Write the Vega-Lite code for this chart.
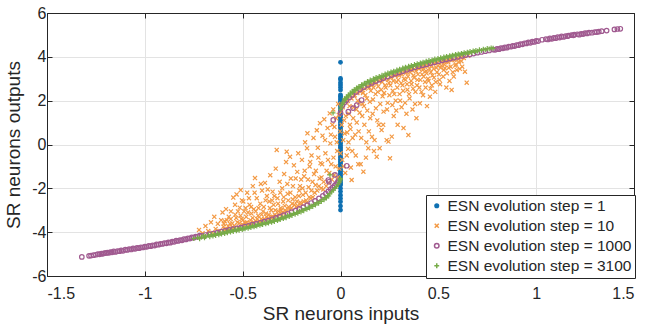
{
"$schema":"https://vega.github.io/schema/vega-lite/v6.json",
"width":587,"height":263,"autosize":"none",
"padding":{"left":47,"top":13,"right":12,"bottom":49},
"background":"white",
"config":{"view":{"stroke":"#262626","strokeWidth":1},
"font":"Liberation Sans",
"axis":{"labelFont":"Liberation Sans","titleFont":"Liberation Sans","labelFontSize":16,"titleFontSize":19,"titleFontWeight":"normal","labelColor":"#262626","titleColor":"#262626","domainColor":"#262626","tickColor":"#262626","gridColor":"#e3e3e3","tickSize":-5,"domainWidth":1,"gridWidth":1}},
"datasets":{"pts":[
{"s":"1","x":0,"y":3.75},{"s":"1","x":0,"y":3.02},{"s":"1","x":0,"y":2.95},{"s":"1","x":0,"y":2.82},{"s":"1","x":0,"y":2.72},{"s":"1","x":0,"y":2.61},{"s":"1","x":0,"y":2.49},{"s":"1","x":0,"y":2.26},{"s":"1","x":0,"y":2.2},{"s":"1","x":0,"y":2.12},{"s":"1","x":0,"y":2.04},{"s":"1","x":0,"y":1.96},{"s":"1","x":0,"y":1.88},{"s":"1","x":0,"y":1.8},{"s":"1","x":0,"y":1.72},{"s":"1","x":0,"y":1.64},{"s":"1","x":0,"y":1.56},{"s":"1","x":0,"y":1.48},{"s":"1","x":0,"y":1.4},{"s":"1","x":0,"y":1.32},{"s":"1","x":0,"y":1.24},{"s":"1","x":0,"y":1.16},{"s":"1","x":0,"y":1.08},{"s":"1","x":0,"y":1.0},{"s":"1","x":0,"y":0.92},{"s":"1","x":0,"y":0.84},{"s":"1","x":0,"y":0.76},{"s":"1","x":0,"y":0.68},{"s":"1","x":0,"y":0.6},{"s":"1","x":0,"y":0.52},{"s":"1","x":0,"y":0.44},{"s":"1","x":0,"y":0.36},{"s":"1","x":0,"y":0.28},{"s":"1","x":0,"y":0.2},{"s":"1","x":0,"y":0.12},{"s":"1","x":0,"y":0.04},{"s":"1","x":0,"y":-0.04},{"s":"1","x":0,"y":-0.12},{"s":"1","x":0,"y":-0.2},{"s":"1","x":0,"y":-0.28},{"s":"1","x":0,"y":-0.36},{"s":"1","x":0,"y":-0.44},{"s":"1","x":0,"y":-0.52},{"s":"1","x":0,"y":-0.6},{"s":"1","x":0,"y":-0.68},{"s":"1","x":0,"y":-0.76},{"s":"1","x":0,"y":-0.84},{"s":"1","x":0,"y":-0.92},{"s":"1","x":0,"y":-1.0},{"s":"1","x":0,"y":-1.08},{"s":"1","x":0,"y":-1.16},{"s":"1","x":0,"y":-1.24},{"s":"1","x":0,"y":-1.32},{"s":"1","x":0,"y":-1.4},{"s":"1","x":0,"y":-1.48},{"s":"1","x":0,"y":-1.56},{"s":"1","x":0,"y":-1.64},{"s":"1","x":0,"y":-1.72},{"s":"1","x":0,"y":-1.8},{"s":"1","x":0,"y":-1.85},{"s":"1","x":0,"y":-2.0},{"s":"1","x":0,"y":-2.15},{"s":"1","x":0,"y":-2.31},{"s":"1","x":0,"y":-2.46},{"s":"1","x":0,"y":-2.61},{"s":"1","x":0,"y":-2.81},{"s":"1","x":0,"y":-2.99},
{"s":"10","x":-0.723,"y":-3.9},{"s":"10","x":-0.705,"y":-4.05},
{"s":"10","x":-0.69,"y":-3.72},{"s":"10","x":-0.676,"y":-3.95},{"s":"10","x":-0.662,"y":-3.55},{"s":"10","x":-0.655,"y":-4.02},
{"s":"10","x":-0.645,"y":-3.3},{"s":"10","x":-0.638,"y":-3.85},{"s":"10","x":-0.627,"y":-3.62},{"s":"10","x":-0.618,"y":-3.95},{"s":"10","x":-0.61,"y":-3.45},{"s":"10","x":-0.603,"y":-3.1},
{"s":"10","x":-0.598,"y":-3.75},{"s":"10","x":-0.592,"y":-3.5},{"s":"10","x":-0.585,"y":-2.95},{"s":"10","x":-0.578,"y":-3.85},{"s":"10","x":-0.571,"y":-3.3},{"s":"10","x":-0.565,"y":-3.62},{"s":"10","x":-0.56,"y":-3.05},{"s":"10","x":-0.554,"y":-3.78},
{"s":"10","x":-0.548,"y":-2.42},{"s":"10","x":-0.542,"y":-3.7},{"s":"10","x":-0.538,"y":-3.2},{"s":"10","x":-0.531,"y":-2.28},{"s":"10","x":-0.527,"y":-3.55},{"s":"10","x":-0.52,"y":-3.78},{"s":"10","x":-0.515,"y":-2.88},{"s":"10","x":-0.51,"y":-2.08},{"s":"10","x":-0.506,"y":-3.4},{"s":"10","x":-0.502,"y":-3.65},
{"s":"10","x":-0.497,"y":-2.6},{"s":"10","x":-0.493,"y":-3.05},{"s":"10","x":-0.488,"y":-3.58},{"s":"10","x":-0.482,"y":-3.3},{"s":"10","x":-0.477,"y":-2.2},{"s":"10","x":-0.47,"y":-3.68},{"s":"10","x":-0.465,"y":-2.75},{"s":"10","x":-0.46,"y":-3.45},{"s":"10","x":-0.455,"y":-3.15},{"s":"10","x":-0.451,"y":-3.62},
{"s":"10","x":-0.448,"y":-1.9},{"s":"10","x":-0.443,"y":-2.95},{"s":"10","x":-0.437,"y":-1.53},{"s":"10","x":-0.432,"y":-3.5},{"s":"10","x":-0.428,"y":-2.45},{"s":"10","x":-0.421,"y":-3.25},{"s":"10","x":-0.417,"y":-3.58},{"s":"10","x":-0.41,"y":-2.7},{"s":"10","x":-0.405,"y":-3.4},{"s":"10","x":-0.401,"y":-2.1},
{"s":"10","x":-0.398,"y":-3.45},{"s":"10","x":-0.392,"y":-2.85},{"s":"10","x":-0.386,"y":-1.75},{"s":"10","x":-0.381,"y":-3.15},{"s":"10","x":-0.376,"y":-2.35},{"s":"10","x":-0.37,"y":-3.38},{"s":"10","x":-0.364,"y":-2.6},{"s":"10","x":-0.359,"y":-1.4},{"s":"10","x":-0.354,"y":-3.0},{"s":"10","x":-0.351,"y":-3.3},
{"s":"10","x":-0.347,"y":-2.15},{"s":"10","x":-0.342,"y":-2.75},{"s":"10","x":-0.336,"y":-3.2},{"s":"10","x":-0.331,"y":-1.1},{"s":"10","x":-0.326,"y":-0.25},{"s":"10","x":-0.322,"y":-2.45},{"s":"10","x":-0.317,"y":-3.05},{"s":"10","x":-0.311,"y":-1.7},{"s":"10","x":-0.306,"y":-2.9},{"s":"10","x":-0.302,"y":-3.15},
{"s":"10","x":-0.298,"y":-2.0},{"s":"10","x":-0.293,"y":-2.6},{"s":"10","x":-0.288,"y":-1.35},{"s":"10","x":-0.283,"y":-3.0},{"s":"10","x":-0.278,"y":-0.8},{"s":"10","x":-0.275,"y":-0.33},{"s":"10","x":-0.27,"y":-2.25},{"s":"10","x":-0.265,"y":-2.85},{"s":"10","x":-0.258,"y":-0.56},{"s":"10","x":-0.254,"y":-1.55},
{"s":"10","x":-0.247,"y":-2.7},{"s":"10","x":-0.243,"y":-1.9},{"s":"10","x":-0.238,"y":-0.95},{"s":"10","x":-0.232,"y":-2.4},{"s":"10","x":-0.227,"y":-2.85},{"s":"10","x":-0.221,"y":-1.25},{"s":"10","x":-0.216,"y":-0.4},{"s":"10","x":-0.211,"y":-2.1},{"s":"10","x":-0.205,"y":-2.65},{"s":"10","x":-0.201,"y":-1.6},
{"s":"10","x":-0.197,"y":-0.7},{"s":"10","x":-0.192,"y":-2.3},{"s":"10","x":-0.186,"y":-1.45},{"s":"10","x":-0.181,"y":0.1},{"s":"10","x":-0.176,"y":-2.55},{"s":"10","x":-0.171,"y":-0.17},{"s":"10","x":-0.169,"y":0.51},{"s":"10","x":-0.163,"y":-1.95},{"s":"10","x":-0.158,"y":-1.0},{"s":"10","x":-0.153,"y":-2.45},
{"s":"10","x":-0.148,"y":-0.5},{"s":"10","x":-0.143,"y":-1.7},{"s":"10","x":-0.138,"y":0.3},{"s":"10","x":-0.132,"y":-2.2},{"s":"10","x":-0.126,"y":-1.2},{"s":"10","x":-0.121,"y":0.65},{"s":"10","x":-0.116,"y":-0.15},{"s":"10","x":-0.11,"y":-1.9},{"s":"10","x":-0.105,"y":0.97},{"s":"10","x":-0.102,"y":-0.85},
{"s":"10","x":-0.097,"y":-1.5},{"s":"10","x":-0.092,"y":0.4},{"s":"10","x":-0.088,"y":-2.05},{"s":"10","x":-0.083,"y":1.15},{"s":"10","x":-0.077,"y":-0.4},{"s":"10","x":-0.071,"y":-1.2},{"s":"10","x":-0.066,"y":0.75},{"s":"10","x":-0.06,"y":-1.75},{"s":"10","x":-0.055,"y":1.42},{"s":"10","x":-0.052,"y":0.05},
{"s":"10","x":-0.047,"y":-0.9},{"s":"10","x":-0.042,"y":0.9},{"s":"10","x":-0.037,"y":1.6},{"s":"10","x":-0.033,"y":-1.4},{"s":"10","x":-0.028,"y":0.35},{"s":"10","x":-0.022,"y":1.2},{"s":"10","x":-0.017,"y":-0.3},{"s":"10","x":-0.012,"y":1.85},{"s":"10","x":-0.006,"y":-1.1},{"s":"10","x":-0.002,"y":0.6},{"s":"10","x":0.0,"y":-0.4},
{"s":"10","x":0.004,"y":1.5},{"s":"10","x":0.009,"y":-0.7},{"s":"10","x":0.014,"y":0.2},{"s":"10","x":0.019,"y":1.1},{"s":"10","x":0.024,"y":-1.3},{"s":"10","x":0.029,"y":1.95},{"s":"10","x":0.034,"y":0.55},{"s":"10","x":0.039,"y":-0.2},{"s":"10","x":0.044,"y":1.4},{"s":"10","x":0.048,"y":0.9},
{"s":"10","x":0.053,"y":-1.05},{"s":"10","x":0.057,"y":-1.62},{"s":"10","x":0.062,"y":0.3},{"s":"10","x":0.067,"y":1.7},{"s":"10","x":0.072,"y":2.25},{"s":"10","x":0.078,"y":-0.5},{"s":"10","x":0.083,"y":1.0},{"s":"10","x":0.088,"y":2.0},{"s":"10","x":0.093,"y":0.6},{"s":"10","x":0.098,"y":1.45},
{"s":"10","x":0.103,"y":-0.9},{"s":"10","x":0.108,"y":2.5},{"s":"10","x":0.113,"y":1.85},{"s":"10","x":0.117,"y":-1.24},{"s":"10","x":0.122,"y":0.9},{"s":"10","x":0.127,"y":2.25},{"s":"10","x":0.132,"y":0.1},{"s":"10","x":0.137,"y":1.55},{"s":"10","x":0.142,"y":-0.17},{"s":"10","x":0.147,"y":2.6},
{"s":"10","x":0.152,"y":1.2},{"s":"10","x":0.157,"y":2.7},{"s":"10","x":0.161,"y":0.35},{"s":"10","x":0.166,"y":2.05},{"s":"10","x":0.171,"y":-0.3},{"s":"10","x":0.176,"y":2.85},{"s":"10","x":0.181,"y":1.65},{"s":"10","x":0.185,"y":-0.56},{"s":"10","x":0.19,"y":2.4},{"s":"10","x":0.196,"y":0.9},
{"s":"10","x":0.2,"y":-0.17},{"s":"10","x":0.205,"y":2.95},{"s":"10","x":0.21,"y":0.66},{"s":"10","x":0.215,"y":2.2},{"s":"10","x":0.22,"y":1.5},{"s":"10","x":0.225,"y":3.0},{"s":"10","x":0.231,"y":2.6},{"s":"10","x":0.236,"y":0.2},{"s":"10","x":0.241,"y":1.9},{"s":"10","x":0.245,"y":0.13},{"s":"10","x":0.248,"y":2.8},
{"s":"10","x":0.253,"y":-0.63},{"s":"10","x":0.257,"y":3.1},{"s":"10","x":0.262,"y":0.36},{"s":"10","x":0.267,"y":2.45},{"s":"10","x":0.272,"y":1.3},{"s":"10","x":0.277,"y":3.15},{"s":"10","x":0.282,"y":2.0},{"s":"10","x":0.287,"y":2.85},{"s":"10","x":0.292,"y":0.9},{"s":"10","x":0.297,"y":3.2},
{"s":"10","x":0.302,"y":2.3},{"s":"10","x":0.307,"y":3.25},{"s":"10","x":0.312,"y":1.7},{"s":"10","x":0.317,"y":2.7},{"s":"10","x":0.322,"y":0.75},{"s":"10","x":0.327,"y":3.3},{"s":"10","x":0.332,"y":2.95},{"s":"10","x":0.337,"y":1.4},{"s":"10","x":0.342,"y":2.5},{"s":"10","x":0.347,"y":0.43},{"s":"10","x":0.349,"y":3.35},
{"s":"10","x":0.353,"y":2.1},{"s":"10","x":0.358,"y":3.4},{"s":"10","x":0.363,"y":2.75},{"s":"10","x":0.368,"y":1.6},{"s":"10","x":0.373,"y":3.15},{"s":"10","x":0.378,"y":3.45},{"s":"10","x":0.383,"y":2.4},{"s":"10","x":0.388,"y":1.2},{"s":"10","x":0.393,"y":2.95},{"s":"10","x":0.398,"y":3.5},
{"s":"10","x":0.403,"y":2.6},{"s":"10","x":0.406,"y":1.88},{"s":"10","x":0.412,"y":3.55},{"s":"10","x":0.417,"y":3.2},{"s":"10","x":0.422,"y":2.25},{"s":"10","x":0.427,"y":3.6},{"s":"10","x":0.432,"y":2.85},{"s":"10","x":0.437,"y":3.35},{"s":"10","x":0.442,"y":1.75},{"s":"10","x":0.447,"y":3.0},
{"s":"10","x":0.452,"y":3.65},{"s":"10","x":0.457,"y":2.18},{"s":"10","x":0.462,"y":3.3},{"s":"10","x":0.467,"y":2.7},{"s":"10","x":0.472,"y":3.7},{"s":"10","x":0.478,"y":3.05},{"s":"10","x":0.484,"y":2.4},{"s":"10","x":0.49,"y":3.5},{"s":"10","x":0.496,"y":3.75},
{"s":"10","x":0.503,"y":3.2},{"s":"10","x":0.509,"y":2.75},{"s":"10","x":0.515,"y":3.6},{"s":"10","x":0.522,"y":3.85},{"s":"10","x":0.528,"y":3.4},{"s":"10","x":0.534,"y":3.48},{"s":"10","x":0.541,"y":2.6},{"s":"10","x":0.547,"y":3.8},
{"s":"10","x":0.553,"y":3.5},{"s":"10","x":0.559,"y":3.9},{"s":"10","x":0.568,"y":2.49},{"s":"10","x":0.574,"y":3.3},{"s":"10","x":0.582,"y":3.85},{"s":"10","x":0.59,"y":3.65},{"s":"10","x":0.597,"y":3.95},
{"s":"10","x":0.605,"y":3.75},{"s":"10","x":0.614,"y":4.0},{"s":"10","x":0.622,"y":3.55},{"s":"10","x":0.636,"y":3.32},{"s":"10","x":0.645,"y":2.82},{"s":"10","x":0.652,"y":4.05},
{"s":"10","x":-0.596,"y":-3.62},{"s":"10","x":-0.589,"y":-3.88},{"s":"10","x":-0.581,"y":-3.45},{"s":"10","x":-0.574,"y":-3.72},{"s":"10","x":-0.567,"y":-3.9},{"s":"10","x":-0.561,"y":-3.4},{"s":"10","x":-0.553,"y":-3.6},{"s":"10","x":-0.546,"y":-3.82},{"s":"10","x":-0.539,"y":-2.75},{"s":"10","x":-0.533,"y":-3.35},{"s":"10","x":-0.524,"y":-3.05},{"s":"10","x":-0.518,"y":-3.6},{"s":"10","x":-0.511,"y":-3.25},{"s":"10","x":-0.504,"y":-2.55},{"s":"10","x":-0.499,"y":-3.45},{"s":"10","x":-0.491,"y":-3.7},{"s":"10","x":-0.485,"y":-2.9},{"s":"10","x":-0.479,"y":-3.55},{"s":"10","x":-0.473,"y":-3.1},{"s":"10","x":-0.468,"y":-2.45},{"s":"10","x":-0.462,"y":-3.6},{"s":"10","x":-0.457,"y":-2.85},{"s":"10","x":-0.449,"y":-3.35},{"s":"10","x":-0.444,"y":-3.55},{"s":"10","x":-0.439,"y":-2.2},{"s":"10","x":-0.433,"y":-3.05},{"s":"10","x":-0.426,"y":-3.4},{"s":"10","x":-0.419,"y":-2.9},{"s":"10","x":-0.414,"y":-3.5},{"s":"10","x":-0.407,"y":-1.8},{"s":"10","x":-0.403,"y":-3.2},{"s":"10","x":-0.396,"y":-3.05},{"s":"10","x":-0.389,"y":-3.4},{"s":"10","x":-0.383,"y":-2.55},{"s":"10","x":-0.378,"y":-3.3},{"s":"10","x":-0.372,"y":-2.05},{"s":"10","x":-0.366,"y":-3.2},{"s":"10","x":-0.361,"y":-2.9},{"s":"10","x":-0.356,"y":-3.35},{"s":"10","x":-0.349,"y":-2.55},{"s":"10","x":-0.344,"y":-3.3},{"s":"10","x":-0.338,"y":-2.35},{"s":"10","x":-0.333,"y":-3.0},{"s":"10","x":-0.327,"y":-3.25},{"s":"10","x":-0.319,"y":-2.7},{"s":"10","x":-0.314,"y":-3.2},{"s":"10","x":-0.308,"y":-2.2},{"s":"10","x":-0.304,"y":-3.0},{"s":"10","x":-0.296,"y":-3.1},{"s":"10","x":-0.29,"y":-2.4},{"s":"10","x":-0.285,"y":-2.8},{"s":"10","x":-0.279,"y":-3.05},{"s":"10","x":-0.272,"y":-1.8},{"s":"10","x":-0.267,"y":-2.55},{"s":"10","x":-0.261,"y":-2.95},{"s":"10","x":-0.256,"y":-2.2},{"s":"10","x":-0.25,"y":-2.9},{"s":"10","x":-0.244,"y":-2.5},{"s":"10","x":-0.236,"y":-2.75},{"s":"10","x":-0.229,"y":-1.55},{"s":"10","x":-0.223,"y":-2.6},{"s":"10","x":-0.218,"y":-2.8},{"s":"10","x":-0.213,"y":-2.35},{"s":"10","x":-0.207,"y":-1.9},{"s":"10","x":-0.199,"y":-2.7},{"s":"10","x":-0.194,"y":-2.0},{"s":"10","x":-0.188,"y":-2.6},{"s":"10","x":-0.183,"y":-1.2},{"s":"10","x":-0.178,"y":-2.2},{"s":"10","x":-0.173,"y":-2.65},{"s":"10","x":-0.166,"y":-1.6},{"s":"10","x":-0.16,"y":-2.4},{"s":"10","x":-0.155,"y":-0.8},{"s":"10","x":-0.149,"y":-2.1},{"s":"10","x":-0.141,"y":-2.4},{"s":"10","x":-0.135,"y":-1.35},{"s":"10","x":-0.128,"y":-1.85},{"s":"10","x":-0.119,"y":-2.1},{"s":"10","x":-0.113,"y":-0.6},{"s":"10","x":-0.107,"y":-1.55},{"s":"10","x":-0.099,"y":-2.0},{"s":"10","x":-0.094,"y":-0.9},{"s":"10","x":-0.086,"y":-1.7},{"s":"10","x":-0.079,"y":0.2},{"s":"10","x":-0.073,"y":-1.9},{"s":"10","x":-0.064,"y":-0.7},{"s":"10","x":-0.057,"y":-1.3},{"s":"10","x":-0.049,"y":0.45},{"s":"10","x":-0.044,"y":-1.6},{"s":"10","x":-0.036,"y":-0.6},{"s":"10","x":-0.031,"y":0.8},{"s":"10","x":-0.025,"y":-1.0},{"s":"10","x":-0.019,"y":0.1},{"s":"10","x":-0.014,"y":-1.5},{"s":"10","x":-0.009,"y":1.35},
{"s":"10","x":0.006,"y":0.9},{"s":"10","x":0.011,"y":1.7},{"s":"10","x":0.016,"y":-1.0},{"s":"10","x":0.021,"y":0.5},{"s":"10","x":0.027,"y":1.3},{"s":"10","x":0.032,"y":-0.5},{"s":"10","x":0.037,"y":2.0},{"s":"10","x":0.041,"y":0.1},{"s":"10","x":0.046,"y":1.75},{"s":"10","x":0.051,"y":0.7},{"s":"10","x":0.056,"y":2.1},{"s":"10","x":0.06,"y":-0.3},{"s":"10","x":0.065,"y":1.2},{"s":"10","x":0.07,"y":2.2},{"s":"10","x":0.075,"y":0.45},{"s":"10","x":0.081,"y":1.6},{"s":"10","x":0.086,"y":2.35},{"s":"10","x":0.091,"y":-0.9},{"s":"10","x":0.096,"y":1.9},{"s":"10","x":0.101,"y":2.4},{"s":"10","x":0.106,"y":0.3},{"s":"10","x":0.111,"y":1.3},{"s":"10","x":0.115,"y":2.35},{"s":"10","x":0.12,"y":1.75},{"s":"10","x":0.125,"y":2.55},{"s":"10","x":0.13,"y":-0.6},{"s":"10","x":0.135,"y":2.1},{"s":"10","x":0.14,"y":2.65},{"s":"10","x":0.145,"y":0.6},{"s":"10","x":0.15,"y":1.95},{"s":"10","x":0.155,"y":2.45},{"s":"10","x":0.159,"y":2.75},{"s":"10","x":0.164,"y":1.4},{"s":"10","x":0.169,"y":2.6},{"s":"10","x":0.174,"y":0.2},{"s":"10","x":0.179,"y":2.3},{"s":"10","x":0.183,"y":2.8},{"s":"10","x":0.188,"y":1.1},{"s":"10","x":0.193,"y":2.65},{"s":"10","x":0.198,"y":2.9},{"s":"10","x":0.203,"y":1.85},{"s":"10","x":0.208,"y":2.5},{"s":"10","x":0.213,"y":2.85},{"s":"10","x":0.218,"y":0.9},{"s":"10","x":0.223,"y":2.35},{"s":"10","x":0.228,"y":2.7},{"s":"10","x":0.233,"y":3.05},{"s":"10","x":0.238,"y":1.6},{"s":"10","x":0.243,"y":2.95},{"s":"10","x":0.25,"y":2.25},{"s":"10","x":0.255,"y":2.7},{"s":"10","x":0.26,"y":3.05},{"s":"10","x":0.265,"y":1.8},{"s":"10","x":0.27,"y":2.9},{"s":"10","x":0.275,"y":2.3},{"s":"10","x":0.28,"y":3.15},{"s":"10","x":0.285,"y":1.55},{"s":"10","x":0.29,"y":2.6},{"s":"10","x":0.295,"y":2.95},{"s":"10","x":0.3,"y":3.15},{"s":"10","x":0.305,"y":2.0},{"s":"10","x":0.31,"y":2.8},{"s":"10","x":0.315,"y":3.2},{"s":"10","x":0.32,"y":2.45},{"s":"10","x":0.325,"y":3.0},{"s":"10","x":0.33,"y":1.9},{"s":"10","x":0.335,"y":3.28},{"s":"10","x":0.34,"y":2.75},{"s":"10","x":0.345,"y":3.1},{"s":"10","x":0.35,"y":2.3},{"s":"10","x":0.356,"y":3.3},{"s":"10","x":0.361,"y":2.9},{"s":"10","x":0.366,"y":3.4},{"s":"10","x":0.371,"y":2.55},{"s":"10","x":0.376,"y":3.05},{"s":"10","x":0.381,"y":1.85},{"s":"10","x":0.386,"y":3.35},{"s":"10","x":0.391,"y":2.7},{"s":"10","x":0.396,"y":3.2},{"s":"10","x":0.401,"y":3.45},{"s":"10","x":0.408,"y":2.95},{"s":"10","x":0.414,"y":2.4},{"s":"10","x":0.42,"y":3.4},{"s":"10","x":0.425,"y":3.1},{"s":"10","x":0.43,"y":3.55},{"s":"10","x":0.435,"y":2.6},{"s":"10","x":0.44,"y":3.25},{"s":"10","x":0.445,"y":3.6},{"s":"10","x":0.45,"y":2.9},{"s":"10","x":0.455,"y":3.45},{"s":"10","x":0.46,"y":2.55},{"s":"10","x":0.466,"y":3.6},{"s":"10","x":0.47,"y":3.15},{"s":"10","x":0.476,"y":3.45},{"s":"10","x":0.481,"y":3.7},{"s":"10","x":0.487,"y":2.85},{"s":"10","x":0.493,"y":3.3},{"s":"10","x":0.499,"y":3.6},{"s":"10","x":0.506,"y":2.95},{"s":"10","x":0.512,"y":3.5},{"s":"10","x":0.518,"y":3.75},{"s":"10","x":0.525,"y":3.1},{"s":"10","x":0.531,"y":3.65},{"s":"10","x":0.538,"y":3.8},{"s":"10","x":0.544,"y":3.25},{"s":"10","x":0.551,"y":3.75},{"s":"10","x":0.557,"y":2.9},{"s":"10","x":0.563,"y":3.55},{"s":"10","x":0.571,"y":3.85},{"s":"10","x":0.579,"y":3.1},{"s":"10","x":0.586,"y":3.6},{"s":"10","x":0.594,"y":3.4},{"s":"10","x":0.601,"y":3.9},{"s":"10","x":0.61,"y":3.45},{"s":"10","x":0.618,"y":3.8},{"s":"10","x":0.63,"y":3.95},
{"s":"1000","x":-1.322,"y":-5.13},{"s":"1000","x":-1.285,"y":-5.08},{"s":"1000","x":-1.275,"y":-5.07},{"s":"1000","x":-1.262,"y":-5.05},{"s":"1000","x":-1.25,"y":-5.03},{"s":"1000","x":-1.232,"y":-5.01},{"s":"1000","x":-1.215,"y":-4.99},{"s":"1000","x":-1.2,"y":-4.96},{"s":"1000","x":-1.185,"y":-4.95},{"s":"1000","x":-1.168,"y":-4.92},{"s":"1000","x":-1.15,"y":-4.9},{"s":"1000","x":-1.13,"y":-4.87},{"s":"1000","x":-1.112,"y":-4.85},{"s":"1000","x":-1.09,"y":-4.81},{"s":"1000","x":-1.07,"y":-4.79},{"s":"1000","x":-1.05,"y":-4.76},{"s":"1000","x":-1.03,"y":-4.73},{"s":"1000","x":-1.01,"y":-4.7},{"s":"1000","x":-0.99,"y":-4.67},{"s":"1000","x":-0.97,"y":-4.64},{"s":"1000","x":-0.95,"y":-4.61},{"s":"1000","x":-0.93,"y":-4.57},{"s":"1000","x":-0.91,"y":-4.54},{"s":"1000","x":-0.89,"y":-4.51},{"s":"1000","x":-0.87,"y":-4.48},{"s":"1000","x":-0.85,"y":-4.44},{"s":"1000","x":-0.83,"y":-4.4},{"s":"1000","x":-0.81,"y":-4.37},{"s":"1000","x":-0.79,"y":-4.33},{"s":"1000","x":-0.77,"y":-4.29},{"s":"1000","x":-0.75,"y":-4.25},{"s":"1000","x":-0.73,"y":-4.21},{"s":"1000","x":-0.71,"y":-4.17},{"s":"1000","x":-0.69,"y":-4.13},{"s":"1000","x":-0.67,"y":-4.09},{"s":"1000","x":-0.65,"y":-4.06},{"s":"1000","x":-0.63,"y":-4.02},{"s":"1000","x":-0.61,"y":-3.98},{"s":"1000","x":-0.59,"y":-3.94},{"s":"1000","x":-0.57,"y":-3.9},{"s":"1000","x":-0.55,"y":-3.86},{"s":"1000","x":-0.53,"y":-3.83},{"s":"1000","x":-0.51,"y":-3.79},{"s":"1000","x":-0.49,"y":-3.75},{"s":"1000","x":-0.47,"y":-3.71},{"s":"1000","x":-0.45,"y":-3.66},{"s":"1000","x":-0.43,"y":-3.62},{"s":"1000","x":-0.41,"y":-3.57},{"s":"1000","x":-0.39,"y":-3.52},{"s":"1000","x":-0.37,"y":-3.47},{"s":"1000","x":-0.35,"y":-3.41},{"s":"1000","x":-0.33,"y":-3.35},{"s":"1000","x":-0.31,"y":-3.29},{"s":"1000","x":-0.29,"y":-3.22},{"s":"1000","x":-0.27,"y":-3.16},{"s":"1000","x":-0.25,"y":-3.09},{"s":"1000","x":-0.23,"y":-3.02},{"s":"1000","x":-0.21,"y":-2.94},{"s":"1000","x":-0.19,"y":-2.86},{"s":"1000","x":-0.17,"y":-2.77},{"s":"1000","x":-0.15,"y":-2.67},{"s":"1000","x":-0.13,"y":-2.57},{"s":"1000","x":-0.11,"y":-2.46},{"s":"1000","x":-0.09,"y":-2.34},{"s":"1000","x":-0.075,"y":-2.24},{"s":"1000","x":-0.062,"y":-2.14},{"s":"1000","x":-0.05,"y":-2.04},{"s":"1000","x":-0.04,"y":-1.96},{"s":"1000","x":-0.03,"y":-1.88},{"s":"1000","x":-0.022,"y":-1.8},{"s":"1000","x":-0.015,"y":-1.73},{"s":"1000","x":-0.01,"y":-1.66},{"s":"1000","x":-0.062,"y":-1.62},{"s":"1000","x":-0.028,"y":-1.39},{"s":"1000","x":-0.059,"y":-1.7},{"s":"1000","x":0.032,"y":-0.97},
{"s":"1000","x":-1.24,"y":-5.0},{"s":"1000","x":-1.222,"y":-4.98},{"s":"1000","x":-1.207,"y":-4.96},{"s":"1000","x":-1.192,"y":-4.93},{"s":"1000","x":-1.176,"y":-4.91},{"s":"1000","x":-1.159,"y":-4.88},{"s":"1000","x":-1.14,"y":-4.86},{"s":"1000","x":-1.121,"y":-4.83},{"s":"1000","x":-1.1,"y":-4.8},{"s":"1000","x":-1.08,"y":-4.77},{"s":"1000","x":-1.06,"y":-4.74},{"s":"1000","x":-1.04,"y":-4.72},{"s":"1000","x":-1.02,"y":-4.69},{"s":"1000","x":-1.0,"y":-4.66},{"s":"1000","x":-0.98,"y":-4.63},{"s":"1000","x":-0.96,"y":-4.6},{"s":"1000","x":-0.94,"y":-4.56},{"s":"1000","x":-0.92,"y":-4.53},{"s":"1000","x":-0.9,"y":-4.5},{"s":"1000","x":-0.88,"y":-4.47},{"s":"1000","x":-0.86,"y":-4.43},{"s":"1000","x":-0.84,"y":-4.39},{"s":"1000","x":-0.82,"y":-4.36},{"s":"1000","x":-0.8,"y":-4.32},{"s":"1000","x":-0.78,"y":-4.28},{"s":"1000","x":-0.76,"y":-4.24},{"s":"1000","x":-0.74,"y":-4.2},{"s":"1000","x":-0.72,"y":-4.16},
{"s":"1000","x":0.04,"y":1.5},{"s":"1000","x":0.083,"y":1.8},{"s":"1000","x":0.108,"y":2.03},{"s":"1000","x":-0.037,"y":1.12},{"s":"1000","x":0.0,"y":1.44},{"s":"1000","x":0.064,"y":1.66},
{"s":"1000","x":0.01,"y":1.78},{"s":"1000","x":0.02,"y":1.92},{"s":"1000","x":0.03,"y":2.02},{"s":"1000","x":0.045,"y":2.15},{"s":"1000","x":0.06,"y":2.26},{"s":"1000","x":0.08,"y":2.4},{"s":"1000","x":0.1,"y":2.52},{"s":"1000","x":0.12,"y":2.62},{"s":"1000","x":0.14,"y":2.72},{"s":"1000","x":0.16,"y":2.81},{"s":"1000","x":0.18,"y":2.89},{"s":"1000","x":0.2,"y":2.96},{"s":"1000","x":0.22,"y":3.03},{"s":"1000","x":0.24,"y":3.1},{"s":"1000","x":0.26,"y":3.17},{"s":"1000","x":0.28,"y":3.23},{"s":"1000","x":0.3,"y":3.29},{"s":"1000","x":0.32,"y":3.35},{"s":"1000","x":0.34,"y":3.41},{"s":"1000","x":0.36,"y":3.47},{"s":"1000","x":0.38,"y":3.52},{"s":"1000","x":0.4,"y":3.57},{"s":"1000","x":0.42,"y":3.62},{"s":"1000","x":0.44,"y":3.66},{"s":"1000","x":0.46,"y":3.71},{"s":"1000","x":0.48,"y":3.75},{"s":"1000","x":0.5,"y":3.8},{"s":"1000","x":0.52,"y":3.84},{"s":"1000","x":0.54,"y":3.88},{"s":"1000","x":0.56,"y":3.92},{"s":"1000","x":0.58,"y":3.96},{"s":"1000","x":0.6,"y":4.0},{"s":"1000","x":0.62,"y":4.04},{"s":"1000","x":0.64,"y":4.08},{"s":"1000","x":0.66,"y":4.11},{"s":"1000","x":0.68,"y":4.15},{"s":"1000","x":0.7,"y":4.19},{"s":"1000","x":0.72,"y":4.22},{"s":"1000","x":0.74,"y":4.26},{"s":"1000","x":0.76,"y":4.29},{"s":"1000","x":0.78,"y":4.33},{"s":"1000","x":0.8,"y":4.36},{"s":"1000","x":0.82,"y":4.4},{"s":"1000","x":0.84,"y":4.43},{"s":"1000","x":0.86,"y":4.47},{"s":"1000","x":0.88,"y":4.5},{"s":"1000","x":0.9,"y":4.54},{"s":"1000","x":0.92,"y":4.58},{"s":"1000","x":0.94,"y":4.62},{"s":"1000","x":0.96,"y":4.66},{"s":"1000","x":0.98,"y":4.69},{"s":"1000","x":1.0,"y":4.73},{"s":"1000","x":1.03,"y":4.78},{"s":"1000","x":1.05,"y":4.81},{"s":"1000","x":1.07,"y":4.84},{"s":"1000","x":1.09,"y":4.87},{"s":"1000","x":1.11,"y":4.9},{"s":"1000","x":1.13,"y":4.93},{"s":"1000","x":1.15,"y":4.95},{"s":"1000","x":1.165,"y":4.97},{"s":"1000","x":1.18,"y":4.99},{"s":"1000","x":1.195,"y":5.01},{"s":"1000","x":1.21,"y":5.03},{"s":"1000","x":1.23,"y":5.05},{"s":"1000","x":1.25,"y":5.08},{"s":"1000","x":1.27,"y":5.1},{"s":"1000","x":1.3,"y":5.13},{"s":"1000","x":1.32,"y":5.15},{"s":"1000","x":1.335,"y":5.17},{"s":"1000","x":1.36,"y":5.2},{"s":"1000","x":1.4,"y":5.25},{"s":"1000","x":1.415,"y":5.27},{"s":"1000","x":1.43,"y":5.28},
{"s":"1000","x":0.79,"y":4.32},{"s":"1000","x":0.81,"y":4.35},{"s":"1000","x":0.83,"y":4.39},{"s":"1000","x":0.85,"y":4.42},{"s":"1000","x":0.87,"y":4.46},{"s":"1000","x":0.89,"y":4.49},{"s":"1000","x":0.91,"y":4.53},{"s":"1000","x":0.93,"y":4.57},{"s":"1000","x":0.95,"y":4.61},{"s":"1000","x":0.97,"y":4.64},{"s":"1000","x":0.99,"y":4.68},{"s":"1000","x":1.01,"y":4.72},{"s":"1000","x":1.06,"y":4.79},{"s":"1000","x":1.08,"y":4.82},{"s":"1000","x":1.1,"y":4.85},{"s":"1000","x":1.12,"y":4.88},{"s":"1000","x":1.14,"y":4.91},{"s":"1000","x":1.16,"y":4.94},{"s":"1000","x":1.19,"y":4.98},{"s":"1000","x":1.22,"y":5.01},{"s":"1000","x":1.24,"y":5.04},{"s":"1000","x":1.26,"y":5.07},{"s":"1000","x":1.285,"y":5.1},{"s":"1000","x":1.31,"y":5.13},
{"s":"3100","x":-0.75,"y":-4.29},{"s":"3100","x":-0.73,"y":-4.25},{"s":"3100","x":-0.71,"y":-4.22},{"s":"3100","x":-0.7,"y":-4.17},{"s":"3100","x":-0.69,"y":-4.2},{"s":"3100","x":-0.675,"y":-4.14},{"s":"3100","x":-0.66,"y":-4.12},{"s":"3100","x":-0.645,"y":-4.1},{"s":"3100","x":-0.63,"y":-4.06},{"s":"3100","x":-0.615,"y":-4.05},{"s":"3100","x":-0.6,"y":-4.0},{"s":"3100","x":-0.585,"y":-3.99},{"s":"3100","x":-0.57,"y":-3.94},{"s":"3100","x":-0.555,"y":-3.93},{"s":"3100","x":-0.54,"y":-3.88},{"s":"3100","x":-0.525,"y":-3.87},{"s":"3100","x":-0.51,"y":-3.83},{"s":"3100","x":-0.495,"y":-3.82},{"s":"3100","x":-0.48,"y":-3.77},{"s":"3100","x":-0.465,"y":-3.76},{"s":"3100","x":-0.45,"y":-3.71},{"s":"3100","x":-0.435,"y":-3.7},{"s":"3100","x":-0.42,"y":-3.64},{"s":"3100","x":-0.405,"y":-3.63},{"s":"3100","x":-0.39,"y":-3.57},{"s":"3100","x":-0.375,"y":-3.56},{"s":"3100","x":-0.36,"y":-3.5},{"s":"3100","x":-0.345,"y":-3.48},{"s":"3100","x":-0.33,"y":-3.42},{"s":"3100","x":-0.315,"y":-3.4},{"s":"3100","x":-0.3,"y":-3.33},{"s":"3100","x":-0.285,"y":-3.31},{"s":"3100","x":-0.27,"y":-3.24},{"s":"3100","x":-0.255,"y":-3.21},{"s":"3100","x":-0.24,"y":-3.14},{"s":"3100","x":-0.225,"y":-3.11},{"s":"3100","x":-0.21,"y":-3.04},{"s":"3100","x":-0.195,"y":-3.0},{"s":"3100","x":-0.18,"y":-2.92},{"s":"3100","x":-0.165,"y":-2.88},{"s":"3100","x":-0.15,"y":-2.8},{"s":"3100","x":-0.135,"y":-2.74},{"s":"3100","x":-0.12,"y":-2.66},{"s":"3100","x":-0.105,"y":-2.6},{"s":"3100","x":-0.09,"y":-2.5},{"s":"3100","x":-0.078,"y":-2.43},{"s":"3100","x":-0.066,"y":-2.33},{"s":"3100","x":-0.055,"y":-2.25},{"s":"3100","x":-0.045,"y":-2.16},{"s":"3100","x":-0.036,"y":-2.08},{"s":"3100","x":-0.028,"y":-2.0},{"s":"3100","x":-0.02,"y":-1.92},{"s":"3100","x":-0.013,"y":-1.83},{"s":"3100","x":-0.007,"y":-1.74},{"s":"3100","x":-0.003,"y":-1.66},{"s":"3100","x":-0.002,"y":-1.6},{"s":"3100","x":0.0,"y":-1.55},{"s":"3100","x":-0.054,"y":-1.39},
{"s":"3100","x":-0.72,"y":-4.3},{"s":"3100","x":-0.695,"y":-4.26},{"s":"3100","x":-0.668,"y":-4.21},{"s":"3100","x":-0.652,"y":-4.18},{"s":"3100","x":-0.638,"y":-4.15},{"s":"3100","x":-0.622,"y":-4.12},{"s":"3100","x":-0.608,"y":-4.09},{"s":"3100","x":-0.592,"y":-4.06},{"s":"3100","x":-0.578,"y":-4.03},{"s":"3100","x":-0.562,"y":-4.0},{"s":"3100","x":-0.548,"y":-3.97},{"s":"3100","x":-0.532,"y":-3.94},{"s":"3100","x":-0.518,"y":-3.91},{"s":"3100","x":-0.502,"y":-3.88},{"s":"3100","x":-0.488,"y":-3.85},{"s":"3100","x":-0.472,"y":-3.82},{"s":"3100","x":-0.458,"y":-3.79},{"s":"3100","x":-0.442,"y":-3.76},{"s":"3100","x":-0.428,"y":-3.72},{"s":"3100","x":-0.412,"y":-3.69},{"s":"3100","x":-0.398,"y":-3.65},{"s":"3100","x":-0.382,"y":-3.62},{"s":"3100","x":-0.368,"y":-3.58},{"s":"3100","x":-0.352,"y":-3.55},{"s":"3100","x":-0.338,"y":-3.51},{"s":"3100","x":-0.322,"y":-3.47},{"s":"3100","x":-0.308,"y":-3.43},{"s":"3100","x":-0.292,"y":-3.38},{"s":"3100","x":-0.278,"y":-3.34},{"s":"3100","x":-0.262,"y":-3.29},{"s":"3100","x":-0.248,"y":-3.24},{"s":"3100","x":-0.232,"y":-3.19},{"s":"3100","x":-0.218,"y":-3.14},{"s":"3100","x":-0.202,"y":-3.08},{"s":"3100","x":-0.188,"y":-3.02},{"s":"3100","x":-0.172,"y":-2.96},{"s":"3100","x":-0.158,"y":-2.9},{"s":"3100","x":-0.142,"y":-2.83},{"s":"3100","x":-0.128,"y":-2.76},{"s":"3100","x":-0.112,"y":-2.68},{"s":"3100","x":-0.098,"y":-2.6},{"s":"3100","x":-0.084,"y":-2.52},{"s":"3100","x":-0.072,"y":-2.44},{"s":"3100","x":-0.06,"y":-2.35},
{"s":"3100","x":-0.038,"y":1.44},{"s":"3100","x":0.0,"y":1.62},{"s":"3100","x":0.003,"y":1.72},{"s":"3100","x":0.007,"y":1.82},{"s":"3100","x":0.012,"y":1.9},{"s":"3100","x":0.018,"y":1.98},{"s":"3100","x":0.025,"y":2.06},{"s":"3100","x":0.033,"y":2.14},{"s":"3100","x":0.042,"y":2.22},{"s":"3100","x":0.052,"y":2.3},{"s":"3100","x":0.063,"y":2.38},{"s":"3100","x":0.075,"y":2.46},{"s":"3100","x":0.088,"y":2.54},{"s":"3100","x":0.1,"y":2.6},{"s":"3100","x":0.115,"y":2.68},{"s":"3100","x":0.13,"y":2.75},{"s":"3100","x":0.145,"y":2.82},{"s":"3100","x":0.16,"y":2.88},{"s":"3100","x":0.175,"y":2.94},{"s":"3100","x":0.19,"y":3.0},{"s":"3100","x":0.205,"y":3.05},{"s":"3100","x":0.22,"y":3.11},{"s":"3100","x":0.235,"y":3.16},{"s":"3100","x":0.25,"y":3.21},{"s":"3100","x":0.265,"y":3.26},{"s":"3100","x":0.28,"y":3.3},{"s":"3100","x":0.295,"y":3.35},{"s":"3100","x":0.31,"y":3.39},{"s":"3100","x":0.325,"y":3.44},{"s":"3100","x":0.34,"y":3.48},{"s":"3100","x":0.355,"y":3.52},{"s":"3100","x":0.37,"y":3.56},{"s":"3100","x":0.385,"y":3.6},{"s":"3100","x":0.4,"y":3.64},{"s":"3100","x":0.415,"y":3.68},{"s":"3100","x":0.43,"y":3.71},{"s":"3100","x":0.445,"y":3.75},{"s":"3100","x":0.46,"y":3.78},{"s":"3100","x":0.475,"y":3.82},{"s":"3100","x":0.49,"y":3.85},{"s":"3100","x":0.505,"y":3.88},{"s":"3100","x":0.52,"y":3.92},{"s":"3100","x":0.535,"y":3.95},{"s":"3100","x":0.55,"y":3.98},{"s":"3100","x":0.565,"y":4.01},{"s":"3100","x":0.58,"y":4.04},{"s":"3100","x":0.595,"y":4.07},{"s":"3100","x":0.61,"y":4.1},{"s":"3100","x":0.625,"y":4.12},{"s":"3100","x":0.64,"y":4.15},{"s":"3100","x":0.655,"y":4.18},{"s":"3100","x":0.67,"y":4.2},{"s":"3100","x":0.685,"y":4.23},{"s":"3100","x":0.7,"y":4.26},{"s":"3100","x":0.72,"y":4.29},{"s":"3100","x":0.74,"y":4.32},{"s":"3100","x":0.76,"y":4.36},{"s":"3100","x":0.78,"y":4.39},
{"s":"3100","x":0.02,"y":2.08},{"s":"3100","x":0.03,"y":2.17},{"s":"3100","x":0.04,"y":2.26},{"s":"3100","x":0.05,"y":2.35},{"s":"3100","x":0.06,"y":2.43},{"s":"3100","x":0.07,"y":2.5},{"s":"3100","x":0.082,"y":2.58},{"s":"3100","x":0.094,"y":2.65},{"s":"3100","x":0.108,"y":2.73},{"s":"3100","x":0.122,"y":2.8},{"s":"3100","x":0.138,"y":2.88},{"s":"3100","x":0.152,"y":2.94},{"s":"3100","x":0.168,"y":3.0},{"s":"3100","x":0.182,"y":3.06},{"s":"3100","x":0.198,"y":3.11},{"s":"3100","x":0.212,"y":3.16},{"s":"3100","x":0.228,"y":3.22},{"s":"3100","x":0.242,"y":3.26},{"s":"3100","x":0.258,"y":3.31},{"s":"3100","x":0.272,"y":3.35},{"s":"3100","x":0.288,"y":3.4},{"s":"3100","x":0.302,"y":3.44},{"s":"3100","x":0.318,"y":3.49},{"s":"3100","x":0.332,"y":3.53},{"s":"3100","x":0.348,"y":3.57},{"s":"3100","x":0.362,"y":3.61},{"s":"3100","x":0.378,"y":3.65},{"s":"3100","x":0.392,"y":3.69},{"s":"3100","x":0.408,"y":3.72},{"s":"3100","x":0.422,"y":3.76},{"s":"3100","x":0.438,"y":3.8},{"s":"3100","x":0.452,"y":3.83},{"s":"3100","x":0.468,"y":3.86},{"s":"3100","x":0.482,"y":3.9},{"s":"3100","x":0.498,"y":3.93},{"s":"3100","x":0.512,"y":3.96},{"s":"3100","x":0.528,"y":3.99},{"s":"3100","x":0.542,"y":4.02},{"s":"3100","x":0.558,"y":4.05},{"s":"3100","x":0.572,"y":4.08},{"s":"3100","x":0.588,"y":4.11},{"s":"3100","x":0.602,"y":4.13},{"s":"3100","x":0.618,"y":4.16},{"s":"3100","x":0.632,"y":4.19},{"s":"3100","x":0.648,"y":4.21},{"s":"3100","x":0.662,"y":4.24},{"s":"3100","x":0.678,"y":4.27},{"s":"3100","x":0.692,"y":4.29},{"s":"3100","x":0.71,"y":4.32},{"s":"3100","x":0.73,"y":4.35},{"s":"3100","x":0.75,"y":4.38},{"s":"3100","x":0.77,"y":4.41}
]},
"data":{"name":"pts"},
"layer":[
{"mark":{"type":"point","filled":false,"opacity":1,"strokeWidth":1.2},
"encoding":{
"x":{"field":"x","type":"quantitative","scale":{"domain":[-1.5,1.5],"nice":false,"zero":false},"axis":{"values":[-1.5,-1,-0.5,0,0.5,1,1.5],"labelExpr":"toString(datum.value)","title":"SR neurons inputs","grid":true,"labelPadding":14,"titlePadding":3}},
"y":{"field":"y","type":"quantitative","scale":{"domain":[-6,6],"nice":false,"zero":false},"axis":{"values":[-6,-4,-2,0,2,4,6],"labelExpr":"toString(datum.value)","title":"SR neurons outputs","grid":true,"labelPadding":6,"titlePadding":8}},
"stroke":{"field":"s","type":"nominal","scale":{"domain":["1","10","1000","3100"],"range":["#0E70B2","#F39A45","#A05A90","#77AC48"]},"legend":{"title":null,"orient":"none","legendX":379,"legendY":182,"labelExpr":"'ESN evolution step = ' + datum.label","labelFontSize":15.5,"labelFont":"Liberation Sans","labelColor":"#262626","labelLimit":400,"strokeColor":"#262626","fillColor":"white","padding":3,"rowPadding":3,"labelOffset":3}},
"fill":{"field":"s","type":"nominal","scale":{"domain":["1","10","1000","3100"],"range":["#0E70B2","transparent","transparent","transparent"]}},
"shape":{"field":"s","type":"nominal","scale":{"domain":["1","10","1000","3100"],"range":["circle","M-1,-1L1,1M-1,1L1,-1","circle","M-1,0L1,0M0,-1L0,1"]}},
"size":{"field":"s","type":"nominal","scale":{"domain":["1","10","1000","3100"],"range":[13,24,22,34]}}
}},
{"data":{"values":[{"x":0,"y":0}]},"mark":{"type":"point","opacity":0},
"encoding":{
"x":{"field":"x","type":"quantitative","axis":{"orient":"top","labels":false,"grid":false,"title":null,"values":[-1.5,-1,-0.5,0,0.5,1,1.5]}},
"y":{"field":"y","type":"quantitative","axis":{"orient":"right","labels":false,"grid":false,"title":null,"values":[-6,-4,-2,0,2,4,6]}}
}}
],
"resolve":{"axis":{"x":"independent","y":"independent"}}
}
